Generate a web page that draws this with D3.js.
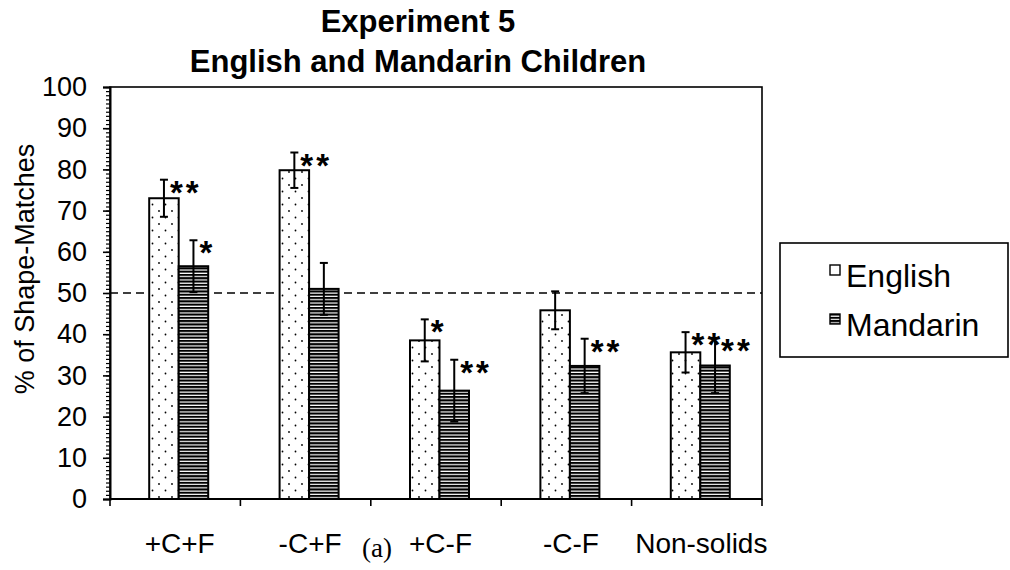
<!DOCTYPE html>
<html><head><meta charset="utf-8">
<script src="https://cdn.jsdelivr.net/npm/d3@7"></script>
<style>body{margin:0;background:#fff}svg{display:block}</style></head><body>
<svg id="c" width="1010" height="570"></svg>
<script>
const categories = ["+C+F", "-C+F", "+C-F", "-C-F", "Non-solids"];
const seriesNames = ["English", "Mandarin"];
const englishValues = [73, 79.8, 38.5, 45.8, 35.6];
const mandarinValues = [56.5, 51, 26.3, 32.3, 32.4];
const englishErrors = [4.5, 4.3, 5.1, 4.6, 4.9];
const mandarinErrors = [6.3, 6.3, 7.5, 6.6, 6.7];
const englishSig = ["**", "**", "*", "", "**"];
const mandarinSig = ["*", "", "**", "**", "**"];
const yTicks = [0, 10, 20, 30, 40, 50, 60, 70, 80, 90, 100];
const chanceLevel = 50;
const titleLines = ["Experiment 5", "English and Mandarin Children"];
const yLabel = "% of Shape-Matches";
const panelLabel = "(a)";

const svg = d3.select("#c");
const FONT = "Arial, 'Liberation Sans', sans-serif";
const L = 110, R = 762, T = 87, B = 499;
const groupShift = 3.5;

const x = d3.scaleBand().domain(categories).range([L, R]);
const xs = d3.scaleBand().domain(seriesNames).range([0, 59]);
const y = d3.scaleLinear().domain([0, 100]).range([B, T]);

const defs = svg.append("defs");
const pd = defs.append("pattern").attr("id", "dots").attr("patternUnits", "userSpaceOnUse")
  .attr("width", 13).attr("height", 13);
pd.append("rect").attr("width", 13).attr("height", 13).attr("fill", "#fff");
pd.append("circle").attr("cx", 3).attr("cy", 3).attr("r", 0.9).attr("fill", "#000");
pd.append("circle").attr("cx", 9.5).attr("cy", 9.5).attr("r", 0.9).attr("fill", "#000");
const ps = defs.append("pattern").attr("id", "stripes").attr("patternUnits", "userSpaceOnUse")
  .attr("width", 8).attr("height", 3.3);
ps.append("rect").attr("width", 8).attr("height", 3.3).attr("fill", "#fff");
ps.append("rect").attr("width", 8).attr("height", 2.1).attr("fill", "#000");
const fills = {English: "url(#dots)", Mandarin: "url(#stripes)"};

// Plot frame
svg.append("rect").attr("x", L).attr("y", T).attr("width", R - L).attr("height", B - T)
  .attr("fill", "none").attr("stroke", "#000").attr("stroke-width", 1.6);

// Chance line
svg.append("line").attr("x1", L).attr("x2", R).attr("y1", y(chanceLevel)).attr("y2", y(chanceLevel))
  .attr("stroke", "#000").attr("stroke-width", 1.5).attr("stroke-dasharray", "8,5");

// Data rows
const rows = [];
categories.forEach((c, i) => {
  rows.push({cat: c, s: "English", v: englishValues[i], e: englishErrors[i], sig: englishSig[i]});
  rows.push({cat: c, s: "Mandarin", v: mandarinValues[i], e: mandarinErrors[i], sig: mandarinSig[i]});
});
const bx = d => x(d.cat) + (x.bandwidth() - 59) / 2 + groupShift + xs(d.s);

svg.append("g").selectAll("rect").data(rows).join("rect")
  .attr("x", bx).attr("y", d => y(d.v))
  .attr("width", xs.bandwidth()).attr("height", d => y(0) - y(d.v))
  .attr("fill", d => fills[d.s]).attr("stroke", "#000").attr("stroke-width", 2);

const eb = svg.append("g").attr("stroke", "#000").attr("stroke-width", 2);
rows.forEach(d => {
  const cx = bx(d) + xs.bandwidth() / 2;
  eb.append("line").attr("x1", cx).attr("x2", cx).attr("y1", y(d.v + d.e)).attr("y2", y(d.v - d.e));
  eb.append("line").attr("x1", cx - 4).attr("x2", cx + 4).attr("y1", y(d.v + d.e)).attr("y2", y(d.v + d.e));
  eb.append("line").attr("x1", cx - 4).attr("x2", cx + 4).attr("y1", y(d.v - d.e)).attr("y2", y(d.v - d.e));
});

svg.append("g").selectAll("text").data(rows.filter(d => d.sig)).join("text")
  .attr("x", d => bx(d) + xs.bandwidth() / 2 + 6)
  .attr("y", d => y(d.v + d.e) + 24)
  .attr("font-family", FONT).attr("font-size", 33).attr("font-weight", "bold")
  .attr("letter-spacing", 3)
  .text(d => d.sig);

// Y axis: minor and major ticks
const minorTicks = d3.range(0, 101, 1);
svg.append("g").attr("transform", `translate(${L},0)`)
  .call(d3.axisLeft(y).tickValues(minorTicks).tickSize(4).tickFormat(""))
  .call(g => g.select(".domain").remove())
  .call(g => g.selectAll("line").attr("stroke-width", 1.2));
const ya = svg.append("g").attr("transform", `translate(${L},0)`)
  .call(d3.axisLeft(y).tickValues(yTicks).tickSize(7).tickPadding(16).tickFormat(d3.format("d")));
ya.select(".domain").attr("stroke-width", 2);
ya.selectAll("line").attr("stroke-width", 1.6);
ya.selectAll("text").attr("font-family", FONT).attr("font-size", 27).attr("fill", "#000");

// X axis
const xa = svg.append("g").attr("transform", `translate(0,${B})`);
xa.append("line").attr("x1", L).attr("x2", R).attr("stroke", "#000").attr("stroke-width", 2);
xa.selectAll("line.t").data(categories.concat(["__end"])).join("line").attr("class", "t")
  .attr("x1", (d, i) => i < categories.length ? x(d) : x(categories[categories.length - 1]) + x.bandwidth())
  .attr("x2", (d, i) => i < categories.length ? x(d) : x(categories[categories.length - 1]) + x.bandwidth())
  .attr("y1", 0).attr("y2", 7).attr("stroke", "#000").attr("stroke-width", 1.6);
xa.selectAll("text").data(categories).join("text")
  .attr("x", d => x(d) + x.bandwidth() / 2 + groupShift + 1)
  .attr("y", 54).attr("text-anchor", "middle")
  .attr("font-family", FONT).attr("font-size", 28).text(d => d);

// Y label
svg.append("text").attr("transform", "translate(34,269) rotate(-90)")
  .attr("text-anchor", "middle").attr("font-family", FONT).attr("font-size", 27).text(yLabel);

// Title
svg.append("text").attr("x", 418).attr("y", 32).attr("text-anchor", "middle")
  .attr("font-family", FONT).attr("font-size", 31).attr("font-weight", "bold").text(titleLines[0]);
svg.append("text").attr("x", 418).attr("y", 72).attr("text-anchor", "middle")
  .attr("font-family", FONT).attr("font-size", 31).attr("font-weight", "bold").text(titleLines[1]);

// Panel label
svg.append("text").attr("x", 377).attr("y", 557).attr("text-anchor", "middle")
  .attr("font-family", "'Times New Roman', 'Liberation Serif', serif").attr("font-size", 27).text(panelLabel);

// Legend
const lg = svg.append("g");
lg.append("rect").attr("x", 780).attr("y", 243).attr("width", 228).attr("height", 114)
  .attr("fill", "#fff").attr("stroke", "#000").attr("stroke-width", 1.6);
seriesNames.forEach((s, i) => {
  const yy = 265 + i * 49;
  lg.append("rect").attr("x", 830).attr("y", yy).attr("width", 10).attr("height", 10)
    .attr("fill", fills[s]).attr("stroke", "#000").attr("stroke-width", 1.4);
  lg.append("text").attr("x", 846).attr("y", yy + 22).attr("font-family", FONT).attr("font-size", 32).text(s);
});
</script>
</body></html>
